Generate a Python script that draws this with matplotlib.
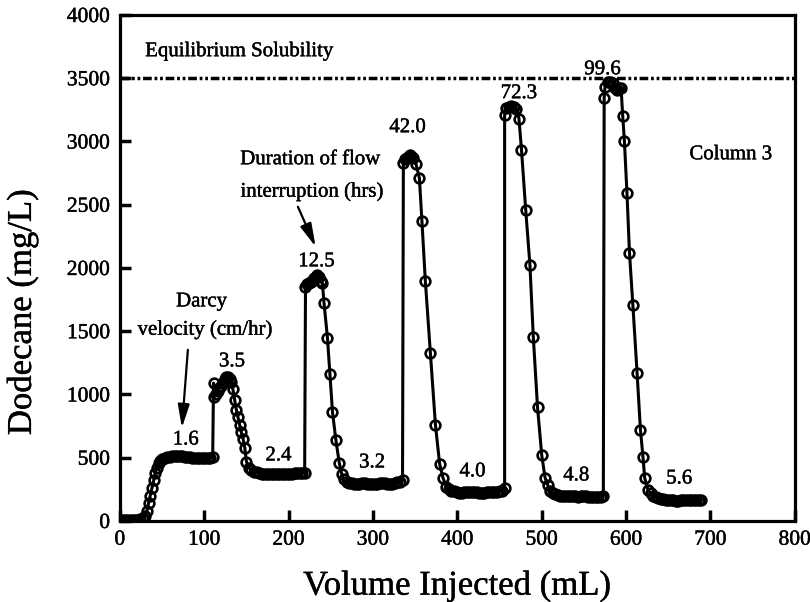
import matplotlib
matplotlib.use("Agg")
import matplotlib.pyplot as plt
import matplotlib.patheffects as pe
import numpy as np

plt.rcParams['font.family'] = ['Liberation Serif', 'DejaVu Serif']

# pulse 1 (1.6 cm/hr)
vol_a = [0, 3, 6, 9, 12, 15, 18, 21, 24, 27, 30, 32, 34, 36, 38, 40, 42, 44, 46, 48,
         50, 53, 56, 59, 62, 65, 68, 71, 74, 77, 80, 83, 86, 89, 92, 95, 98, 101, 104, 107, 110]
conc_a = [10, 5, 5, 5, 5, 5, 8, 10, 15, 25, 40, 80, 140, 200, 260, 320, 380, 420, 455, 475,
          490, 500, 505, 505, 510, 510, 510, 512, 510, 508, 505, 505, 500, 500, 500, 498, 500, 500, 500, 500, 505]

# pulse 2 (3.5) and plateau (2.4)
vol_b = [111, 112, 114, 116, 118, 120, 122, 124, 126, 128, 130, 132, 134, 136, 138, 140, 142, 144, 146, 148,
         150, 153, 156, 159, 162, 165, 168, 171, 174, 177, 180, 183, 186, 189, 192, 195, 198, 201, 204, 207,
         210, 213, 216, 219]
conc_b = [1090, 980, 1000, 1030, 1050, 1070, 1090, 1120, 1135, 1140, 1125, 1100, 1040, 960, 880, 820, 760, 700, 650, 580,
          470, 420, 400, 390, 385, 380, 375, 372, 370, 370, 368, 370, 372, 370, 370, 372, 375, 375,
          375, 378, 378, 380, 380, 380]

# pulse 3 (12.5) and plateau (3.2)
vol_c = [220, 222, 224, 226, 228, 230, 232, 234, 236, 238, 240, 242, 246, 249, 252, 256, 260, 263,
         266, 269, 272, 275, 278, 281, 284, 287, 290, 293, 296, 299, 302, 305, 308, 311, 314, 317,
         320, 323, 326, 329, 332, 335]
conc_c = [1850, 1870, 1880, 1890, 1900, 1920, 1930, 1945, 1930, 1900, 1880, 1720, 1450, 1160, 860, 640, 460, 370,
          330, 310, 300, 300, 295, 295, 295, 298, 300, 295, 295, 292, 295, 295, 298, 300, 300, 295,
          290, 295, 300, 305, 310, 320]

# pulse 4 (42.0) and plateau (4.0)
vol_d = [336, 338, 340, 342, 344, 346, 348, 351, 355, 358, 362, 368, 374, 379, 383, 387,
         390, 393, 396, 399, 402, 405, 408, 411, 414, 417, 420, 423, 426, 429, 432, 435, 438, 441,
         444, 447, 450, 453, 456]
conc_d = [2830, 2860, 2870, 2880, 2895, 2880, 2870, 2820, 2710, 2370, 1900, 1330, 760, 450, 340, 270,
          250, 240, 235, 230, 225, 225, 228, 230, 230, 232, 230, 228, 225, 225, 225, 228, 230, 230,
          228, 230, 235, 240, 260]

# pulse 5 (72.3) and plateau (4.8)
vol_e = [456, 458, 461, 464, 467, 470, 473, 476, 481, 486, 490, 495, 500, 504, 507,
         510, 513, 516, 519, 522, 525, 528, 531, 534, 537, 540, 543, 546, 549, 552, 555, 558, 561,
         564, 567, 570, 573]
conc_e = [3210, 3265, 3275, 3280, 3275, 3260, 3180, 2935, 2460, 2025, 1455, 900, 520, 340, 285,
          240, 220, 210, 205, 200, 200, 198, 195, 195, 195, 195, 192, 195, 195, 195, 192, 190, 190,
          190, 190, 192, 200]

# pulse 6 (99.6) and plateau (5.6)
vol_f = [574, 575, 578, 581, 584, 587, 589, 592, 594, 596, 598, 601, 604, 608, 613, 617, 620, 622, 626,
         629, 632, 635, 638, 641, 644, 647, 650, 653, 656, 659, 662, 665, 668, 671, 674, 677, 680,
         683, 686, 689]
conc_f = [3346, 3433, 3472, 3470, 3465, 3420, 3410, 3420, 3425, 3200, 3000, 2594, 2120, 1709, 1171, 720, 506, 340, 245,
          220, 200, 190, 180, 175, 170, 168, 165, 165, 162, 160, 160, 162, 165, 165, 165, 165, 168,
          165, 165, 168]

solubility = 3500

velocity_labels = ['1.6', '3.5', '2.4', '3.2', '4.0', '4.8', '5.6']
velocity_pos = [(78, 640), (133, 1258), (188, 514), (299, 459), (418, 388), (541, 356), (663, 332)]
duration_labels = ['12.5', '42.0', '72.3', '99.6']
duration_pos = [(233, 2049), (341, 3109), (473, 3378), (572, 3567)]

vol = np.concatenate([vol_a, vol_b, vol_c, vol_d, vol_e, vol_f])
conc = np.concatenate([conc_a, conc_b, conc_c, conc_d, conc_e, conc_f])

# scanned print look: slightly heavier glyphs
ink = [pe.withStroke(linewidth=0.3, foreground='black')]

fig = plt.figure(figsize=(8.1, 6.02), dpi=100)
ax = fig.add_axes([0.148, 0.1346, 0.8333, 0.8405])

ax.plot([0, 800], [solubility, solubility], color='black', lw=2.5,
        linestyle=(0, (2.5, 0.8, 0.8, 0.8, 0.8, 0.8)))
ax.plot(vol, conc, color='black', lw=2.2, marker='o', markersize=7,
        markerfacecolor='none', markeredgecolor='black', markeredgewidth=1.9)

ax.set_xlim(0, 800)
ax.set_ylim(0, 4000)
ax.set_xticks(np.arange(0, 801, 100))
ax.set_yticks(np.arange(0, 4001, 500))
ax.tick_params(direction='in', length=8, width=2.5, labelsize=15.5, pad=7,
               top=False, right=False)
for s in ax.spines.values():
    s.set_linewidth(2.3)
for t in ax.get_xticklabels() + ax.get_yticklabels():
    t.set_path_effects(ink)

ax.set_xlabel('Volume Injected (mL)', fontsize=25, labelpad=14, path_effects=ink)
ax.set_ylabel('Dodecane (mg/L)', fontsize=25, path_effects=ink)
ax.yaxis.set_label_coords(-0.12, 0.413)

kw = dict(fontsize=15, va='center', path_effects=ink)
ax.text(30, 3710, 'Equilibrium Solubility', ha='left', **kw)
ax.text(675, 2895, 'Column 3', ha='left', **kw)
ax.text(226, 2856, 'Duration of flow', ha='center', **kw)
ax.text(228, 2602, 'interruption (hrs)', ha='center', **kw)
ax.text(97, 1732, 'Darcy', ha='center', **kw)
ax.text(101, 1511, 'velocity (cm/hr)', ha='center', **kw)

arrow = dict(arrowstyle='-|>,head_length=1.4,head_width=0.35', lw=1.6,
             color='black', shrinkA=0, shrinkB=0)
ax.annotate('', xy=(73.5, 736), xytext=(80.6, 1353), arrowprops=arrow)
ax.annotate('', xy=(232, 2168), xytext=(211, 2484), arrowprops=arrow)

for lab, (x, y) in zip(velocity_labels, velocity_pos):
    ax.text(x, y, lab, ha='center', **kw)
for lab, (x, y) in zip(duration_labels, duration_pos):
    ax.text(x, y, lab, ha='center', **kw)

fig.savefig('out.png', dpi=100)
